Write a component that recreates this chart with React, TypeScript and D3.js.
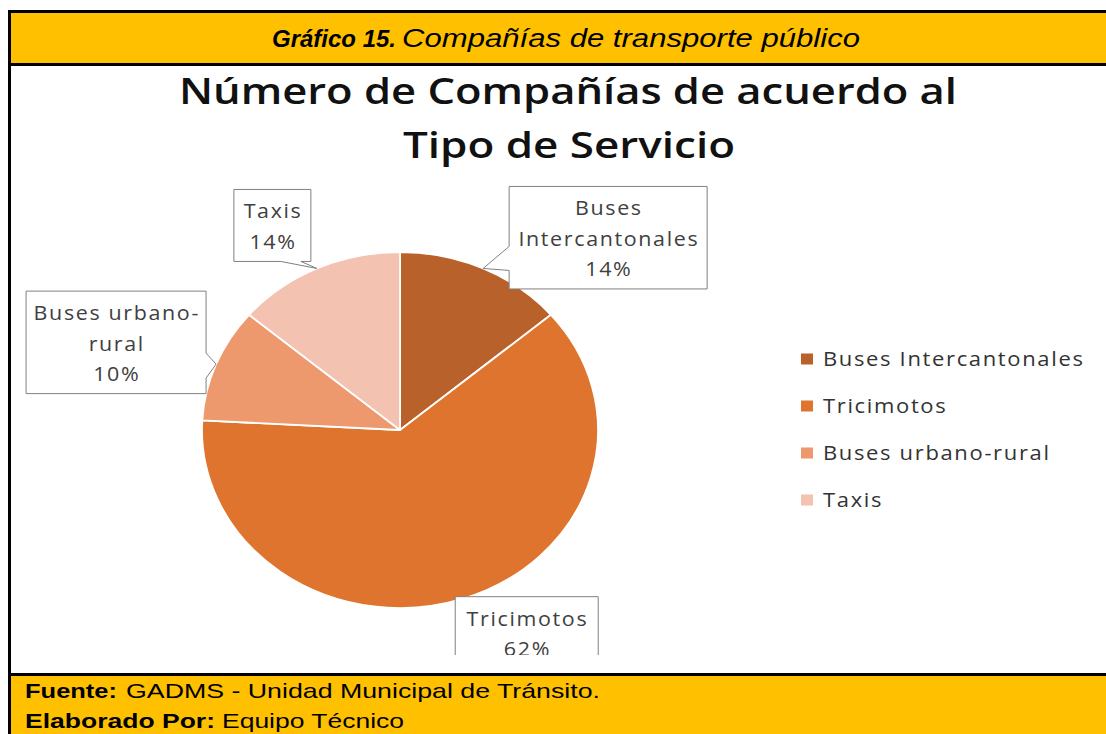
import React from "react";
import * as d3 from "d3";

// datos del gráfico
const categories = ["Buses Intercantonales", "Tricimotos", "Buses urbano-rural", "Taxis"];
const companies = [4, 18, 3, 4];
const sliceColors = ["#B9612A", "#DE742D", "#EE986E", "#F4C2B0"];
const labelLines = [["Buses", "Intercantonales"], ["Tricimotos"], ["Buses urbano-", "rural"], ["Taxis"]];

const W = 1106;
const H = 734;

// pie geometry (the picture is stretched horizontally)
const cx = 400;
const cy = 430;
const r = 178;
const sx = 198 / 178;

// callout boxes, placed relative to the slice tip
const callouts = [
  { dx: 26, dy: -82, w: 198, side: "left", a: 60, b: 84 },
  { dx: -8, dy: -2, w: 143, side: "none", a: 0, b: 0 },
  { dx: -190, dy: -73, w: 180, side: "right", a: 62, b: 87 },
  { dx: -83, dy: -79, w: 77, side: "bottom", a: 47, b: 67 },
];

const labelFont = "'Open Sans', 'DejaVu Sans', sans-serif";
const arialFont = "'Liberation Sans', Arial, sans-serif";

function calloutPath(x: number, y: number, w: number, h: number, c: any, tx: number, ty: number) {
  const p = d3.path();
  p.moveTo(x, y);
  p.lineTo(x + w, y);
  if (c.side === "right") {
    p.lineTo(x + w, y + c.a);
    p.lineTo(tx, ty);
    p.lineTo(x + w, y + c.b);
  }
  p.lineTo(x + w, y + h);
  if (c.side === "bottom") {
    p.lineTo(x + c.b, y + h);
    p.lineTo(tx, ty);
    p.lineTo(x + c.a, y + h);
  }
  p.lineTo(x, y + h);
  if (c.side === "left") {
    p.lineTo(x, y + c.b);
    p.lineTo(tx, ty);
    p.lineTo(x, y + c.a);
  }
  p.closePath();
  return p.toString();
}

export default function App() {
  const total = d3.sum(companies);
  const pct = d3.format(".0%");
  const pie = d3.pie<number>().sort(null).value((d) => d);
  const arcs = pie(companies);
  const arc = d3.arc<d3.PieArcDatum<number>>().innerRadius(0).outerRadius(r);

  const lineH = 30.5;

  return (
    <svg width={W} height={H} style={{ position: "absolute", left: 0, top: 0 }}>
      <defs>
        <clipPath id="chartClip">
          <rect x={11} y={66} width={W - 11} height={589} />
        </clipPath>
      </defs>

      {/* header */}
      <rect x={11} y={13} width={W - 11} height={50} fill="#FFC000" />
      <rect x={8} y={10} width={W - 8} height={3} fill="#000" />
      <rect x={8} y={63} width={W - 8} height={3} fill="#000" />
      <text x={272} y={47} fontFamily={arialFont} fontSize={24} fontStyle="italic" fontWeight="bold"
        textLength={124} lengthAdjust="spacingAndGlyphs">Gráfico 15.</text>
      <text x={402} y={47} fontFamily={arialFont} fontSize={25} fontStyle="italic"
        textLength={458} lengthAdjust="spacingAndGlyphs">Compañías de transporte público</text>

      {/* footer */}
      <rect x={11} y={676} width={W - 11} height={H - 676} fill="#FFC000" />
      <rect x={8} y={673} width={W - 8} height={3} fill="#000" />
      <text x={25} y={698} fontFamily={arialFont} fontSize={21} fontWeight="bold"
        textLength={92} lengthAdjust="spacingAndGlyphs">Fuente:</text>
      <text x={126} y={698} fontFamily={arialFont} fontSize={21}
        textLength={474} lengthAdjust="spacingAndGlyphs">GADMS - Unidad Municipal de Tránsito.</text>
      <text x={25} y={728} fontFamily={arialFont} fontSize={21} fontWeight="bold"
        textLength={190} lengthAdjust="spacingAndGlyphs">Elaborado Por:</text>
      <text x={222} y={728} fontFamily={arialFont} fontSize={21}
        textLength={182} lengthAdjust="spacingAndGlyphs">Equipo Técnico</text>

      <rect x={8} y={10} width={3} height={H - 10} fill="#000" />

      <g clipPath="url(#chartClip)">
        {/* title */}
        <text x={568} y={104} textAnchor="middle" fontFamily={labelFont} fontWeight={600} fontSize={36}
          fill="#111" textLength={778} lengthAdjust="spacingAndGlyphs">Número de Compañías de acuerdo al</text>
        <text x={569} y={158} textAnchor="middle" fontFamily={labelFont} fontWeight={600} fontSize={36}
          fill="#111" textLength={332} lengthAdjust="spacingAndGlyphs">Tipo de Servicio</text>

        {/* pie */}
        <g transform={`translate(${cx},${cy}) scale(${sx},1)`}>
          {arcs.map((a, i) => (
            <path key={i} d={arc(a) || ""} fill={sliceColors[i]} stroke="#fff" strokeWidth={1.8}
              vectorEffect="non-scaling-stroke" strokeLinejoin="round" />
          ))}
        </g>

        {/* callouts */}
        {arcs.map((a, i) => {
          const mid = (a.startAngle + a.endAngle) / 2;
          const tx = cx + Math.sin(mid) * r * sx;
          const ty = cy - Math.cos(mid) * r;
          const c = callouts[i];
          const lines = [...labelLines[i], pct(companies[i] / total)];
          const bx = tx + c.dx;
          const by = ty + c.dy;
          const bh = lines.length * lineH + 11;
          return (
            <g key={i}>
              <path d={calloutPath(bx, by, c.w, bh, c, tx, ty)} fill="#fff" stroke="#808080" strokeWidth={1} />
              {lines.map((t, j) => (
                <text key={j} transform={`translate(${bx + c.w / 2 + 0.7},${by + 29 + j * lineH}) scale(1.1,1)`}
                  textAnchor="middle" fontFamily={labelFont} fontSize={19.5} letterSpacing={1.5} fill="#404040">
                  {t}
                </text>
              ))}
            </g>
          );
        })}

        {/* legend */}
        {categories.map((c, i) => (
          <g key={c} transform={`translate(801,${359 + i * 47})`}>
            <rect x={0} y={-5.5} width={12} height={11} fill={sliceColors[i]} />
            <text transform="translate(22,7) scale(1.1,1)" fontFamily={labelFont} fontSize={20}
              letterSpacing={1.5} fill="#333">{c}</text>
          </g>
        ))}
      </g>
    </svg>
  );
}
